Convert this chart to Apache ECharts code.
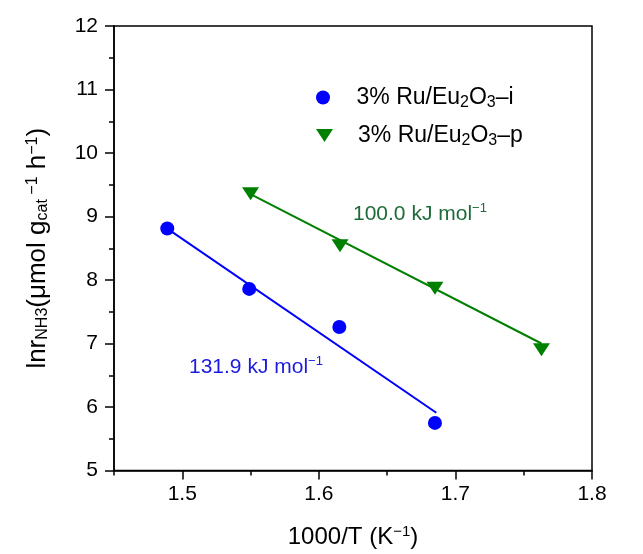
<!DOCTYPE html>
<html>
<head>
<meta charset="utf-8">
<script src="https://cdn.jsdelivr.net/npm/echarts@6/dist/echarts.min.js"></script>
<style>
html,body{margin:0;padding:0;background:#fff;}
#chart{width:643px;height:554px;}
</style>
</head>
<body>
<div id="chart"></div>
<script>
// ---- data ----
const seriesNames = ['3% Ru/Eu2O3-i', '3% Ru/Eu2O3-p'];
const invT_i = [1.489, 1.549, 1.615, 1.685];
const lnr_i  = [8.81, 7.86, 7.26, 5.75];
const invT_p = [1.550, 1.6155, 1.685, 1.763];
const lnr_p  = [9.36, 8.54, 7.87, 6.90];
const fitX_i = [1.489, 1.686];
const fitY_i = [8.81, 5.91];
const fitX_p = [1.551, 1.763];
const fitY_p = [9.34, 7.00];
const xMajorTicks = [1.5, 1.6, 1.7, 1.8];
const xMinorTicks = [1.45, 1.55, 1.65, 1.75];
const yTicks = [5, 6, 7, 8, 9, 10, 11, 12];
const annotI = '131.9 kJ mol';
const annotP = '100.0 kJ mol';

const FONT = 'Arial, "Liberation Sans", Helvetica, sans-serif';
const BLUE = '#0000ff';
const GREEN = '#008000';
const TRI = 'path://M0,0 L17,0 L8.5,13 Z';

function zip(a, b) { return a.map((v, i) => [v, b[i]]); }

const richBase = (fs, sfs, shift) => ({
  n: { fontSize: fs, fontFamily: FONT, color: '#000' },
  sub: { fontSize: sfs, fontFamily: FONT, color: '#000', padding: [shift * 2, 0, 0, 0] },
  sup: { fontSize: sfs, fontFamily: FONT, color: '#000', padding: [0, 0, shift * 2, 0] }
});

const chart = echarts.init(document.getElementById('chart'), null, { renderer: 'canvas' });

const option = {
  animation: false,
  backgroundColor: '#fff',
  grid: { left: 114, right: 51, top: 26, bottom: 83, show: true, borderColor: '#000', borderWidth: 1.5, backgroundColor: 'transparent' },
  legend: [
    {
      data: [{ name: seriesNames[0], icon: 'circle' }],
      left: 316, top: 86, padding: 0,
      itemWidth: 57, itemHeight: 14,
      formatter: () => '{n|3% Ru/Eu}{sub|2}{n|O}{sub|3}{n|–i}',
      textStyle: { rich: richBase(23, 16, 5) }
    },
    {
      data: [{ name: seriesNames[1], icon: TRI }],
      left: 316, top: 124, padding: 0,
      itemWidth: 57, itemHeight: 13,
      formatter: () => '{n|3% Ru/Eu}{sub|2}{n|O}{sub|3}{n|–p}',
      textStyle: { rich: richBase(23, 16, 5) }
    }
  ],
  xAxis: [
    {
      type: 'value', min: 1.45, max: 1.8, position: 'bottom',
      name: '{n|1000/T (K}{sup|−1}{n|)}',
      nameLocation: 'middle', nameGap: 54,
      nameTextStyle: { rich: richBase(24, 15, 5) },
      axisLine: { show: true, onZero: false, lineStyle: { color: '#000', width: 1.5 } },
      axisTick: { show: true, inside: false, length: 9, customValues: xMajorTicks, lineStyle: { color: '#000', width: 1.5 } },
      axisLabel: { show: true, customValues: xMajorTicks, margin: 13, fontSize: 21, fontFamily: FONT, color: '#000', formatter: v => v.toFixed(1) },
      splitLine: { show: false }
    },
    {
      type: 'value', min: 1.45, max: 1.8, position: 'bottom',
      axisLine: { show: false, onZero: false },
      axisTick: { show: true, inside: false, length: 5, customValues: xMinorTicks, lineStyle: { color: '#000', width: 1.5 } },
      axisLabel: { show: false },
      splitLine: { show: false }
    }
  ],
  yAxis: {
    type: 'value', min: 5, max: 12, interval: 1,
    name: '{n|lnr}{sub|NH3}{n|(μmol g}{sub|cat}{sup| −1}{n| h}{sup|−1}{n|)}',
    nameLocation: 'middle', nameGap: 63, nameRotate: 90,
    nameTextStyle: { rich: richBase(26, 16, 5) },
    axisLine: { show: true, onZero: false, lineStyle: { color: '#000', width: 1.5 } },
    axisTick: { show: true, inside: false, length: 9, lineStyle: { color: '#000', width: 1.5 } },
    minorTick: { show: true, splitNumber: 2, length: 5, lineStyle: { color: '#000', width: 1.5 } },
    axisLabel: { margin: 16, fontSize: 21, fontFamily: FONT, color: '#000', customValues: yTicks },
    splitLine: { show: false }
  },
  series: [
    {
      name: 'fit-i', type: 'line', data: zip(fitX_i, fitY_i), showSymbol: false, symbol: 'none',
      lineStyle: { color: BLUE, width: 2 }, silent: true, z: 2
    },
    {
      name: 'fit-p', type: 'line', data: zip(fitX_p, fitY_p), showSymbol: false, symbol: 'none',
      lineStyle: { color: GREEN, width: 2 }, silent: true, z: 2
    },
    {
      name: seriesNames[0], type: 'scatter', data: zip(invT_i, lnr_i),
      symbol: 'circle', symbolSize: 14, itemStyle: { color: BLUE, opacity: 1 }, z: 3
    },
    {
      name: seriesNames[1], type: 'scatter', data: zip(invT_p, lnr_p),
      symbol: TRI, symbolSize: [17, 13], itemStyle: { color: GREEN, opacity: 1 }, z: 3
    }
  ],
  graphic: [
    {
      type: 'text', left: 189, top: 355,
      style: {
        text: '{a|' + annotI + '}{s|−1}',
        rich: {
          a: { fontSize: 21, fontFamily: FONT, fill: '#1c1ce0', color: '#1c1ce0' },
          s: { fontSize: 13, fontFamily: FONT, fill: '#1c1ce0', color: '#1c1ce0', padding: [0, 0, 11, 0] }
        }
      }
    },
    {
      type: 'text', left: 353, top: 202,
      style: {
        text: '{a|' + annotP + '}{s|−1}',
        rich: {
          a: { fontSize: 21, fontFamily: FONT, fill: '#1e6b3a', color: '#1e6b3a' },
          s: { fontSize: 13, fontFamily: FONT, fill: '#1e6b3a', color: '#1e6b3a', padding: [0, 0, 11, 0] }
        }
      }
    }
  ]
};
chart.setOption(option);
</script>
</body>
</html>
